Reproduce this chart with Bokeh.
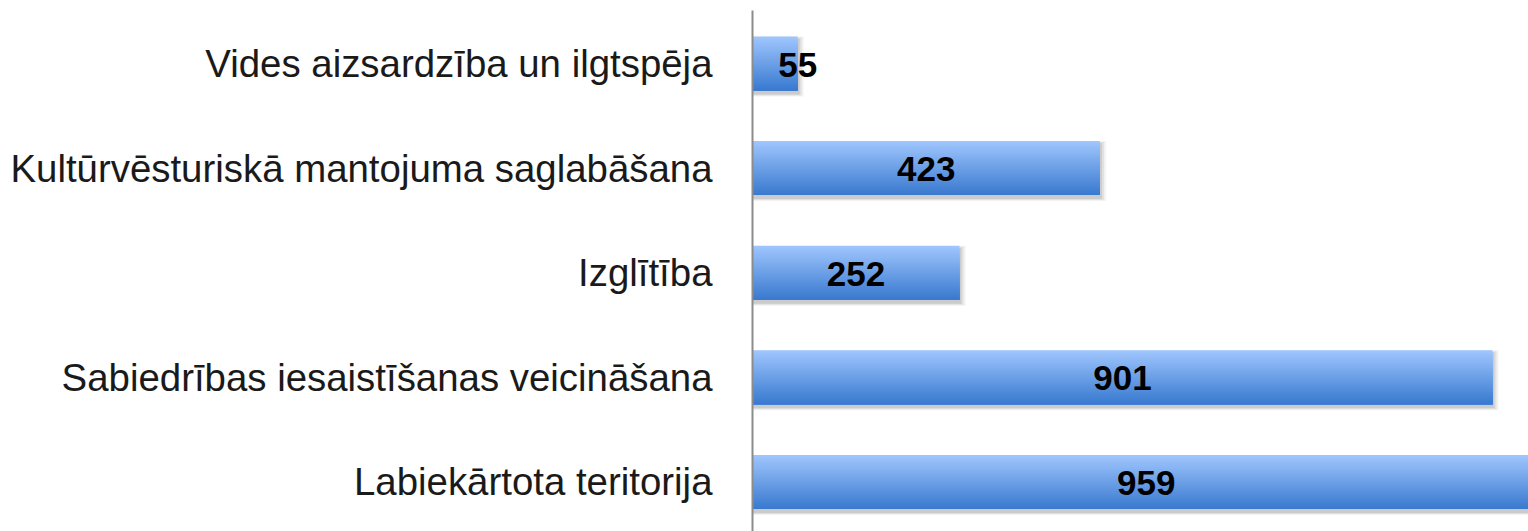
from bokeh.plotting import figure
from bokeh.models import Range1d, FixedTicker, ColumnDataSource, LabelSet
from bokeh.core.properties import value
from bokeh.embed import file_html
from bokeh.resources import INLINE

categories = [
    "Vides aizsardzība un ilgtspēja",
    "Kultūrvēsturiskā mantojuma saglabāšana",
    "Izglītība",
    "Sabiedrības iesaistīšanas veicināšana",
    "Labiekārtota teritorija",
]
values = [55, 423, 252, 901, 959]

W, H = 1528, 531
LEFT = 752
TOP = 10
px_per_x = 0.8213
px_per_y = 104.6
frame_w = W - LEFT
frame_h = H - TOP
y_top = -53 / px_per_y
y_bot = y_top + frame_h / px_per_y

p = figure(width=W, height=H, output_backend="svg", toolbar_location=None,
           x_range=Range1d(0, frame_w / px_per_x),
           y_range=Range1d(y_bot, y_top),
           min_border_left=LEFT, min_border_top=TOP, min_border_bottom=0, min_border_right=0)
p.outline_line_color = None
p.xaxis.visible = False
p.xgrid.visible = False
p.ygrid.visible = False
p.background_fill_color = "white"
p.border_fill_color = "white"

pos = list(range(len(categories)))
p.yaxis.ticker = FixedTicker(ticks=pos)
p.yaxis.major_label_overrides = {i: c for i, c in zip(pos, categories)}
p.yaxis.major_tick_line_color = None
p.yaxis.minor_tick_line_color = None
p.yaxis.major_tick_out = 0
p.yaxis.major_label_standoff = 40
p.yaxis.major_label_text_font = "Liberation Sans"
p.yaxis.major_label_text_font_size = "38.4px"
p.yaxis.major_label_text_color = "#1a1a1a"
p.yaxis.axis_line_color = "#8c8c8c"
p.yaxis.axis_line_width = 2

bar_h = 54 / px_per_y
dx = 1 / px_per_x
dy = 1 / px_per_y

# soft shadow
for k, a in [(6, 0.05), (4, 0.07), (2, 0.09)]:
    p.hbar(y=[y + 3 * dy for y in pos], left=0,
           right=[v + k * dx for v in values],
           height=bar_h + k * dy, fill_color="black", fill_alpha=a, line_color=None)

# gradient bar: stacked slices, each running from its top edge to the bar bottom
N = 27
top_c = (158, 197, 253)
bot_c = (58, 122, 208)
ys, hs, rights, cols = [], [], [], []
for i, v in zip(pos, values):
    bottom = i + bar_h / 2
    for k in range(N):
        t = k / (N - 1)
        c = tuple(int(round(top_c[j] + (bot_c[j] - top_c[j]) * t)) for j in range(3))
        top = i - bar_h / 2 + k * bar_h / N
        ys.append((top + bottom) / 2)
        hs.append(bottom - top)
        rights.append(v)
        cols.append("#%02x%02x%02x" % c)
p.hbar(y=ys, left=0, right=rights, height=hs, fill_color=cols, line_color=None)

# value labels
label_x = [v / 2 if v >= 100 else v for v in values]
src = ColumnDataSource(dict(x=label_x, y=pos, t=[str(v) for v in values]))
p.add_layout(LabelSet(x="x", y="y", text="t", source=src, text_align="center",
                      text_baseline="middle", text_font=value("Liberation Sans"),
                      text_font_style="bold", text_font_size="35px", text_color="black",
                      y_offset=-1))

open("out.html", "w").write(file_html(p, INLINE))
